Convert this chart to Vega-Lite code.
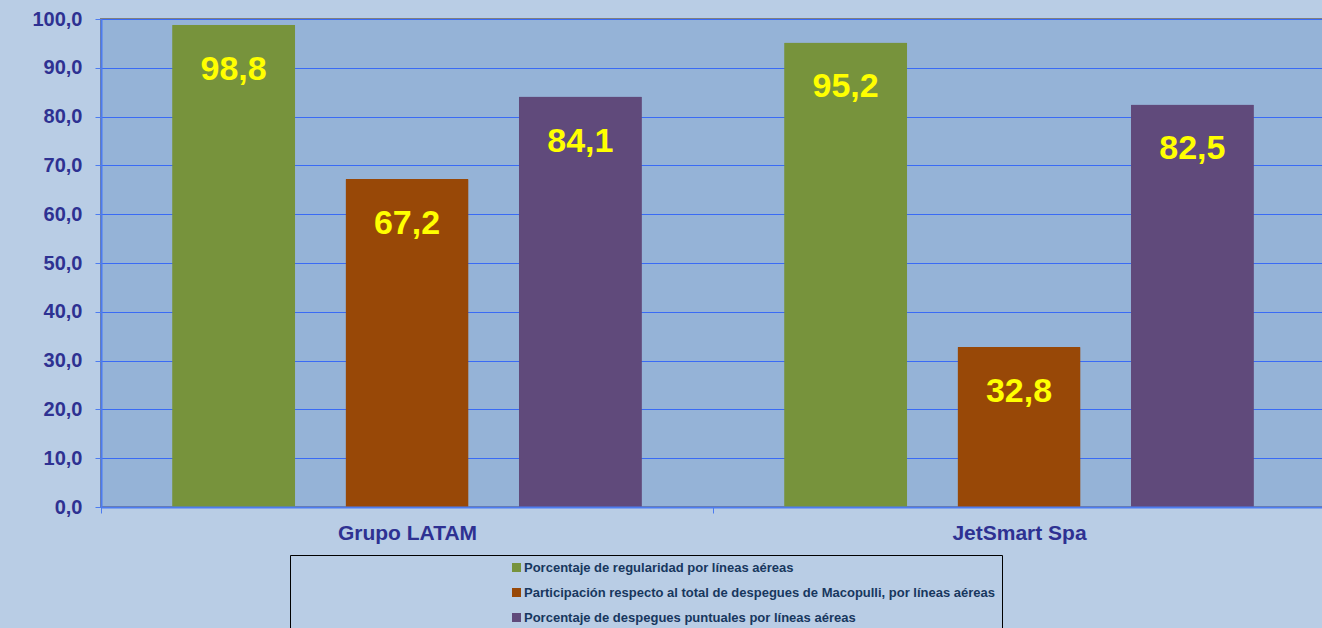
{
  "$schema": "https://vega.github.io/schema/vega-lite/v6.json",
  "width": 1224,
  "height": 488,
  "autosize": {"type": "none"},
  "padding": {"left": 101, "top": 19, "right": 0, "bottom": 121},
  "background": "#B9CDE5",
  "data": {
    "values": [
      {"grupo": "Grupo LATAM", "serie": "Porcentaje de regularidad por líneas aéreas", "valor": 98.8},
      {"grupo": "Grupo LATAM", "serie": "Participación respecto al total de despegues de Macopulli, por líneas aéreas", "valor": 67.2},
      {"grupo": "Grupo LATAM", "serie": "Porcentaje de despegues puntuales por líneas aéreas", "valor": 84.1},
      {"grupo": "JetSmart Spa", "serie": "Porcentaje de regularidad por líneas aéreas", "valor": 95.2},
      {"grupo": "JetSmart Spa", "serie": "Participación respecto al total de despegues de Macopulli, por líneas aéreas", "valor": 32.8},
      {"grupo": "JetSmart Spa", "serie": "Porcentaje de despegues puntuales por líneas aéreas", "valor": 82.5}
    ]
  },
  "encoding": {
    "x": {
      "field": "grupo", "type": "nominal", "title": null,
      "scale": {"paddingInner": 0, "paddingOuter": 0},
      "axis": {
        "labelAngle": 0, "labelFont": "Liberation Sans", "labelFontWeight": "bold",
        "labelFontSize": 21, "labelColor": "#2E3192", "labelPadding": 9,
        "domainColor": "#4D7CF0", "domainWidth": 2, "tickColor": "#4D7CF0",
        "tickSize": 6, "tickBand": "extent", "zindex": 1
      }
    },
    "xOffset": {
      "field": "serie", "type": "nominal",
      "sort": [
        "Porcentaje de regularidad por líneas aéreas",
        "Participación respecto al total de despegues de Macopulli, por líneas aéreas",
        "Porcentaje de despegues puntuales por líneas aéreas"
      ],
      "scale": {"paddingInner": 0.29, "paddingOuter": 0.41}
    },
    "y": {
      "field": "valor", "type": "quantitative", "title": null,
      "scale": {"domain": [0, 100], "nice": false},
      "axis": {
        "values": [0, 10, 20, 30, 40, 50, 60, 70, 80, 90, 100],
        "format": ".1f",
        "labelFont": "Liberation Sans", "labelFontWeight": "bold",
        "labelFontSize": 20, "labelColor": "#2E3192", "labelPadding": 13,
        "domainColor": "#4D7CF0", "domainWidth": 2, "tickColor": "#4D7CF0",
        "tickSize": 6, "gridColor": "#3A6BF5", "gridWidth": 1.2, "zindex": 0
      }
    }
  },
  "layer": [
    {
      "mark": {"type": "bar", "cornerRadius": 1},
      "encoding": {
        "color": {
          "field": "serie", "type": "nominal", "title": null,
          "sort": [
            "Porcentaje de regularidad por líneas aéreas",
            "Participación respecto al total de despegues de Macopulli, por líneas aéreas",
            "Porcentaje de despegues puntuales por líneas aéreas"
          ],
          "scale": {"range": ["#77933C", "#984807", "#604A7B"]},
          "legend": {
            "orient": "none", "legendX": 189, "legendY": 536,
            "direction": "vertical",
            "symbolType": "square", "symbolSize": 81, "symbolStrokeWidth": 0,
            "symbolOffset": 214,
            "labelFont": "Liberation Sans", "labelFontWeight": "bold",
            "labelFontSize": 13, "labelColor": "#17375E", "labelLimit": 700,
            "labelOffset": 1,
            "rowPadding": 11, "padding": 6,
            "strokeColor": "#000000", "fillColor": null
          }
        }
      }
    },
    {
      "mark": {
        "type": "text", "baseline": "middle", "dy": 45,
        "font": "Liberation Sans", "fontWeight": "bold", "fontSize": 34,
        "color": "#FFFF00"
      },
      "encoding": {
        "text": {"field": "valor", "type": "quantitative", "format": ".1f"}
      }
    }
  ],
  "config": {
    "locale": {
      "number": {"decimal": ",", "thousands": ".", "grouping": [3], "currency": ["", " €"]}
    },
    "view": {"fill": "#95B3D7", "stroke": "#7F7F7F", "strokeWidth": 2}
  }
}
